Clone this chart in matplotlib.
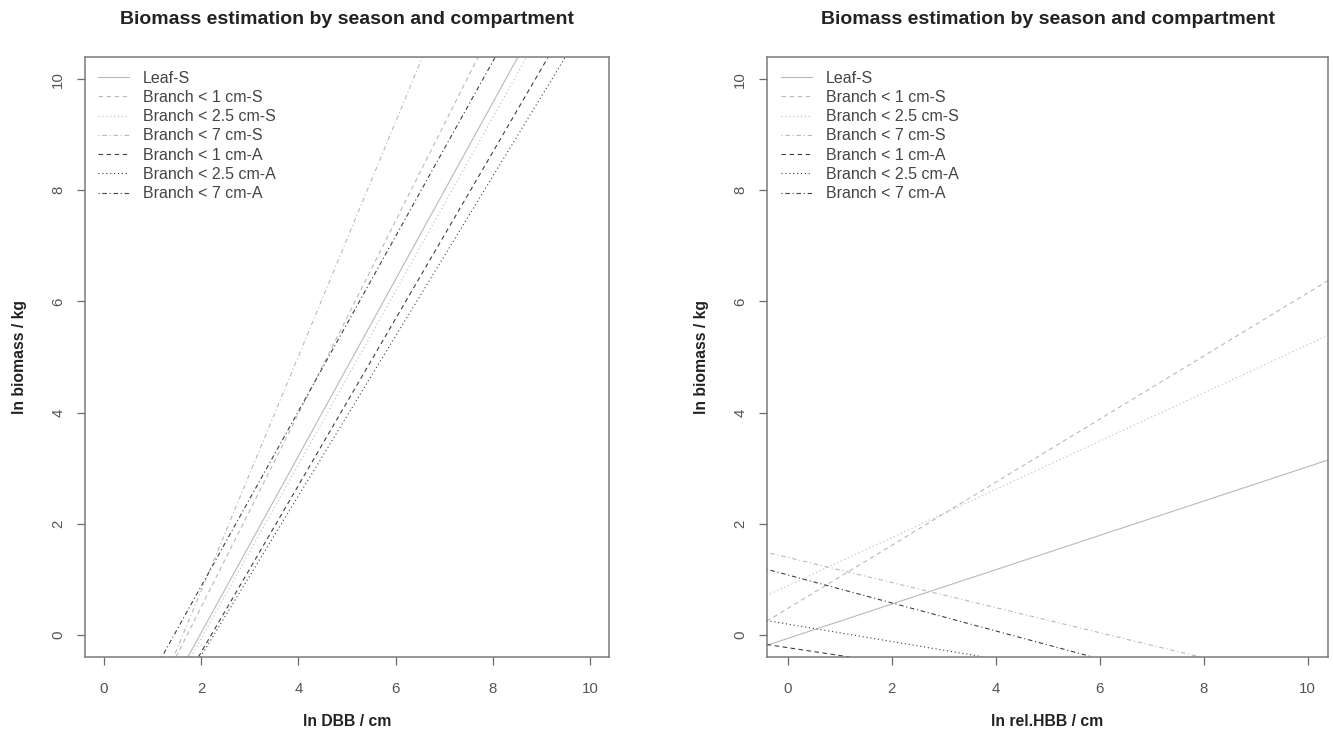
#!/usr/bin/env python3

import matplotlib
matplotlib.use('Agg')
import matplotlib.pyplot as plt

# legend labels, same order in both panels
labels = ['Leaf-S', 'Branch < 1 cm-S', 'Branch < 2.5 cm-S', 'Branch < 7 cm-S',
          'Branch < 1 cm-A', 'Branch < 2.5 cm-A', 'Branch < 7 cm-A']

# fitted lines (intercept, slope)
dbb_intercepts = [-3.14, -2.97, -3.19, -3.42, -3.31, -3.25, -2.27]
dbb_slopes = [1.590, 1.737, 1.563, 2.109, 1.500, 1.438, 1.574]

hbb_intercepts = [-0.066, 0.472, 0.880, 1.394, -0.231, 0.194, 1.079]
hbb_slopes = [0.309, 0.568, 0.434, -0.226, -0.141, -0.157, -0.252]

ticks = [0, 2, 4, 6, 8, 10]
title = 'Biomass estimation by season and compartment'

light = '#b9b9b9'
dark = '#3f3f3f'
dashed = (0, (3.2, 2.6))
dotted = (0, (0.8, 2.0))
dotdash = (0, (0.8, 2.0, 3.2, 2.0))
colors = [light, light, light, light, dark, dark, dark]
styles = ['-', dashed, dotted, dotdash, dashed, dotted, dotdash]

plt.rcParams['font.family'] = ['Liberation Sans', 'DejaVu Sans']
plt.rcParams['lines.scale_dashes'] = False

fig = plt.figure(figsize=(13.33, 7.31), dpi=100)
ax1 = fig.add_axes([0.0635, 0.1012, 0.3937, 0.8208])
ax2 = fig.add_axes([0.5752, 0.1012, 0.4213, 0.8208])


def draw_panel(ax, intercepts, slopes, xlabel, ylab_x):
    for b, m, col, ls, lab in zip(intercepts, slopes, colors, styles, labels):
        ax.axline((0, b), slope=m, color=col, linestyle=ls, linewidth=0.8, label=lab)
    ax.set_xlim(-0.4, 10.4)
    ax.set_ylim(-0.4, 10.4)
    ax.set_xticks(ticks)
    ax.set_yticks(ticks)
    for sp in ax.spines.values():
        sp.set_color('#7a7a7a')
        sp.set_linewidth(1.1)
    ax.tick_params(axis='both', length=6, width=0.9, color='#6a6a6a',
                   labelcolor='#555555', labelsize=10.8)
    ax.tick_params(axis='x', pad=12)
    ax.tick_params(axis='y', pad=8)
    for t in ax.get_yticklabels():
        t.set_rotation(90)
        t.set_va('center')
    ax.set_xlabel(xlabel, fontsize=11.3, fontweight='bold', color='#222222')
    ax.set_ylabel('ln biomass / kg', fontsize=11.3, fontweight='bold', color='#222222')
    ax.xaxis.label.set_va('center')
    ax.yaxis.label.set_va('center')
    ax.xaxis.set_label_coords(0.5, -0.108)
    ax.yaxis.set_label_coords(ylab_x, 0.5)
    ax.text(0.5, 1.063, title, transform=ax.transAxes, ha='center', va='center',
            fontsize=14, fontweight='bold', color='#222222')
    leg = ax.legend(loc='upper left', bbox_to_anchor=(0.025, 0.9775), frameon=False,
                    fontsize=11.5, handlelength=1.95, handletextpad=0.87,
                    labelspacing=0.27, borderpad=0, borderaxespad=0)
    for t in leg.get_texts():
        t.set_color('#444444')


draw_panel(ax1, dbb_intercepts, dbb_slopes, 'ln DBB / cm', -0.124)
draw_panel(ax2, hbb_intercepts, hbb_slopes, 'ln rel.HBB / cm', -0.116)

fig.savefig('out.png', dpi=100)
